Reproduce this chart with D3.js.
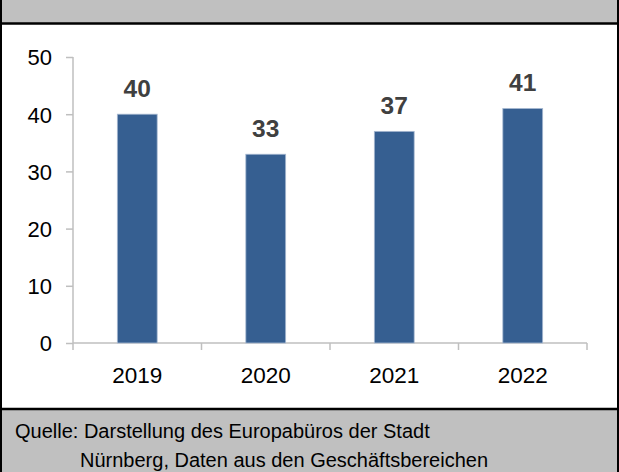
<!DOCTYPE html>
<html>
<head>
<meta charset="utf-8">
<script src="https://cdn.jsdelivr.net/npm/d3@7"></script>
<style>
  html, body { margin: 0; padding: 0; background: #fff; }
  svg { display: block; }
  text { font-family: Arial, "Liberation Sans", Helvetica, sans-serif; }
</style>
</head>
<body>
<svg id="chart" width="619" height="472"></svg>
<script>
// Projects per year
const years = ["2019", "2020", "2021", "2022"];
const projectCounts = [40, 33, 37, 41];
const yTickValues = [0, 10, 20, 30, 40, 50];
const sourceLines = [
  "Quelle: Darstellung des Europabüros der Stadt",
  "Nürnberg, Daten aus den Geschäftsbereichen"
];

const W = 619, H = 472;
const svg = d3.select("#chart");

// header band
svg.append("rect").attr("x", 0).attr("y", 0).attr("width", W).attr("height", 23)
  .attr("fill", "#c0c0c0");
// footer band
svg.append("rect").attr("x", 0).attr("y", 409).attr("width", W).attr("height", H - 409)
  .attr("fill", "#c0c0c0");
// separators
svg.append("line").attr("x1", 0).attr("x2", W).attr("y1", 23.5).attr("y2", 23.5)
  .attr("stroke", "#000").attr("stroke-width", 2.5);
svg.append("line").attr("x1", 0).attr("x2", W).attr("y1", 409).attr("y2", 409)
  .attr("stroke", "#000").attr("stroke-width", 2.5);
// side frame
svg.append("line").attr("x1", 1).attr("x2", 1).attr("y1", 0).attr("y2", H)
  .attr("stroke", "#000").attr("stroke-width", 2);
svg.append("line").attr("x1", W - 1).attr("x2", W - 1).attr("y1", 0).attr("y2", H)
  .attr("stroke", "#000").attr("stroke-width", 2);

// scales
const x = d3.scaleBand().domain(years).range([73, 587]).padding(0);
const y = d3.scaleLinear().domain([0, 50]).range([343, 57]);
const barW = x.bandwidth() * 0.31;

const axisColor = "#bfbfbf";

// y axis
const yAxis = svg.append("g").attr("transform", "translate(73,0)")
  .call(d3.axisLeft(y).tickValues(yTickValues).tickSize(7).tickPadding(14).tickFormat(d3.format("d")));
yAxis.select(".domain").attr("stroke", axisColor).attr("stroke-width", 1.5)
  .attr("d", `M0,${y(50)}V${y(0)}`);
yAxis.selectAll(".tick line").attr("stroke", axisColor).attr("stroke-width", 1.5);
yAxis.selectAll(".tick text").attr("fill", "#000").style("font-size", "22px")
  .attr("dy", "0.36em");

// x axis: tick marks at category boundaries
const xAxisG = svg.append("g").attr("transform", `translate(0,${y(0)})`);
xAxisG.append("line").attr("x1", 73).attr("x2", 587).attr("y1", 0).attr("y2", 0)
  .attr("stroke", axisColor).attr("stroke-width", 1.5);
const boundaries = years.map(d => x(d)).concat([x(years[years.length - 1]) + x.bandwidth()]);
xAxisG.selectAll("line.tk").data(boundaries).join("line").attr("class", "tk")
  .attr("x1", d => d).attr("x2", d => d).attr("y1", 0).attr("y2", 7)
  .attr("stroke", axisColor).attr("stroke-width", 1.5);
xAxisG.selectAll("text").data(years).join("text")
  .attr("x", d => x(d) + x.bandwidth() / 2).attr("y", 40)
  .attr("text-anchor", "middle").attr("fill", "#000").style("font-size", "22.5px")
  .text(d => d);

// bars
const data = years.map((yr, i) => ({ year: yr, value: projectCounts[i] }));
svg.selectAll("rect.bar").data(data).join("rect").attr("class", "bar")
  .attr("x", d => x(d.year) + (x.bandwidth() - barW) / 2)
  .attr("y", d => y(d.value))
  .attr("width", barW)
  .attr("height", d => y(0) - y(d.value))
  .attr("fill", "#365f91")
  .attr("stroke", "#a7b9d1").attr("stroke-width", 0.8);

// value labels
svg.selectAll("text.val").data(data).join("text").attr("class", "val")
  .attr("x", d => x(d.year) + x.bandwidth() / 2)
  .attr("y", d => y(d.value) - 17)
  .attr("text-anchor", "middle").attr("fill", "#404040")
  .style("font-size", "24.5px").style("font-weight", "bold")
  .text(d => d.value);

// source note
svg.append("text").attr("x", 15).attr("y", 438).attr("fill", "#000")
  .style("font-size", "20px").text(sourceLines[0]);
svg.append("text").attr("x", 80).attr("y", 467).attr("fill", "#000")
  .style("font-size", "20px").text(sourceLines[1]);
</script>
</body>
</html>
